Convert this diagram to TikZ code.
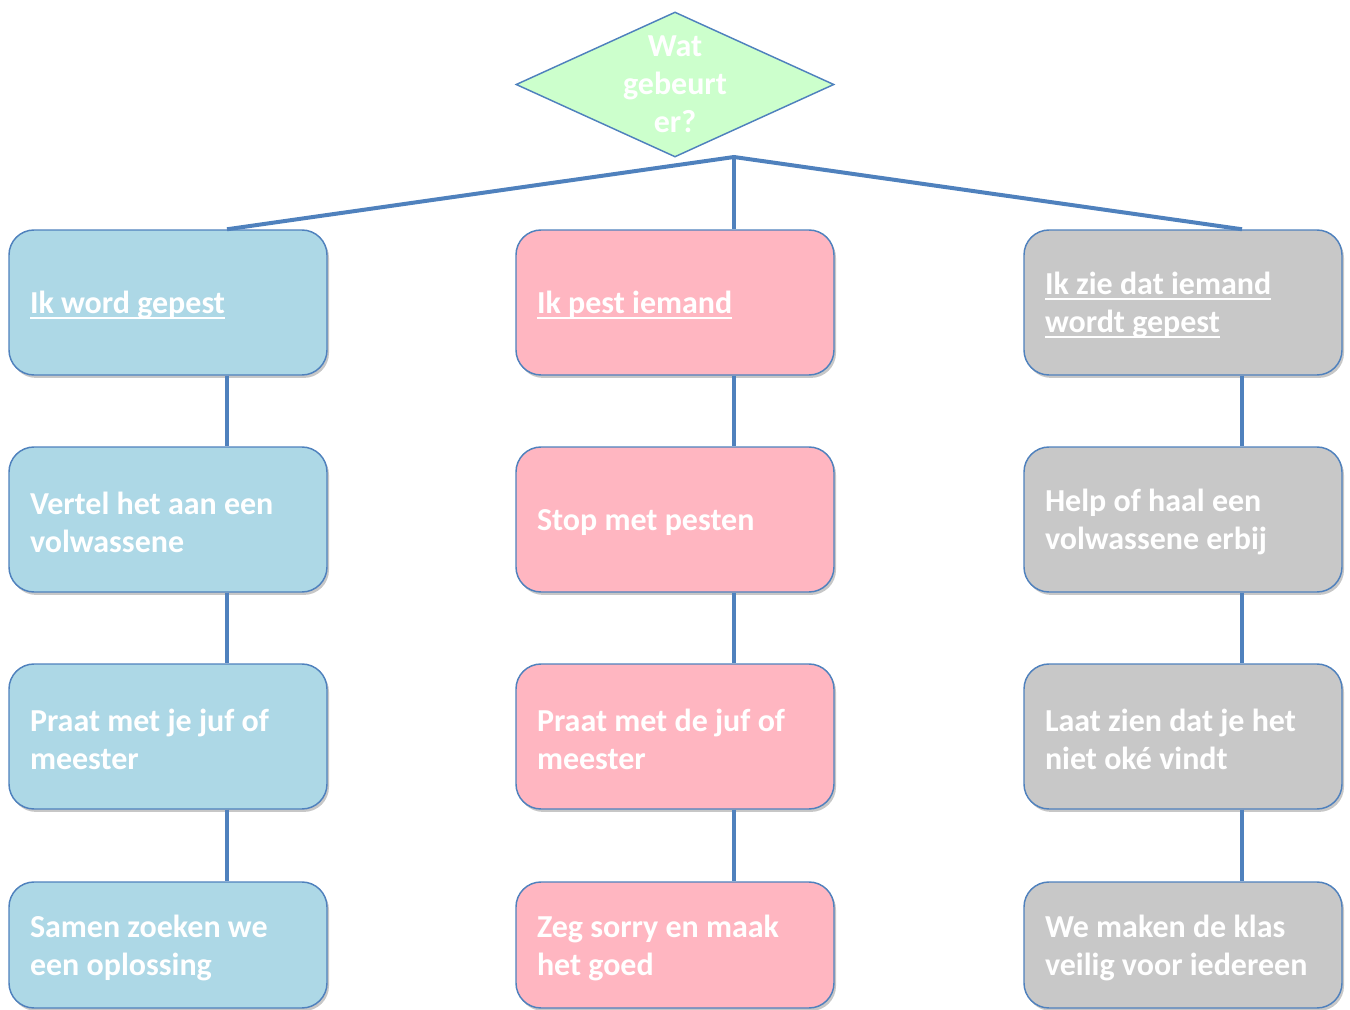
\documentclass[tikz,border=0pt]{standalone}
\usepackage{fontspec}
\setmainfont{Carlito}
\usetikzlibrary{shapes.geometric,shadows}
\definecolor{edge}{RGB}{79,129,189}
\definecolor{bluefill}{RGB}{173,216,230}
\definecolor{pinkfill}{RGB}{255,182,193}
\definecolor{grayfill}{RGB}{200,200,200}
\definecolor{greenfill}{RGB}{204,255,204}
\newsavebox\myulbox
\newcommand\myul[1]{\leavevmode\sbox\myulbox{#1}\rlap{\rule[-3.8pt]{\wd\myulbox}{1.5pt}}\usebox\myulbox}
\newcommand\bt[1]{\raisebox{-1.9pt}[\height][\depth]{\parbox[c]{207pt}{\raggedright #1}}}
\begin{document}
\begin{tikzpicture}[x=0.75pt,y=-0.75pt,
  txt/.style={font=\fontsize{24}{28.5}\selectfont\bfseries, text=white},
  box/.style={txt, draw=edge, line width=1.1pt, rounded corners=18.75pt,
    minimum width=238.5pt, minimum height=108.75pt,
    inner xsep=15.75pt, inner ysep=0pt,
    drop shadow={shadow xshift=1.5pt, shadow yshift=-2.2pt, fill=black, opacity=0.22}},
  bluebox/.style={box, fill=bluefill},
  pinkbox/.style={box, fill=pinkfill},
  graybox/.style={box, fill=grayfill},
  conn/.style={draw=edge, line width=3pt},
  cx/.style={xshift=44.25pt}
]
\useasboundingbox (0,0) rectangle (1350,1010);

% decision diamond
\node[diamond, draw=edge, fill=greenfill, line width=1.1pt,
  minimum width=238.5pt, minimum height=108.75pt, inner sep=0pt] (q) at (675,84.5) {};
\node[txt, align=center, inner sep=0pt] (qt) at (675,84.5) {Wat\\gebeurt\\er?};
\coordinate (j) at (734,157);

% left column
\node[bluebox] (a1) at (168,302.5) {\bt{\myul{Ik word gepest}}};
\node[bluebox] (a2) at (168,519.5) {\bt{Vertel het aan een\\volwassene}};
\node[bluebox] (a3) at (168,736.5) {\bt{Praat met je juf of\\meester}};
\node[bluebox, minimum height=94.5pt] (a4) at (168,945) {\bt{Samen zoeken we\\een oplossing}};

% middle column
\node[pinkbox] (b1) at (675,302.5) {\bt{\myul{Ik pest iemand}}};
\node[pinkbox] (b2) at (675,519.5) {\bt{Stop met pesten}};
\node[pinkbox] (b3) at (675,736.5) {\bt{Praat met de juf of\\meester}};
\node[pinkbox, minimum height=94.5pt] (b4) at (675,945) {\bt{Zeg sorry en maak\\het goed}};

% right column
\node[graybox] (c1) at (1183,302.5) {\bt{\myul{Ik zie dat iemand}\\\myul{wordt gepest}}};
\node[graybox] (c2) at (1183,519.5) {\bt{Help of haal een\\volwassene erbij}};
\node[graybox] (c3) at (1183,736.5) {\bt{Laat zien dat je het\\niet oké vindt}};
\node[graybox, minimum height=94.5pt] (c4) at (1183,945) {\bt{We maken de klas\\veilig voor iedereen}};

% connectors from the decision
\draw[conn] ([cx]a1.north) -- (j) -- ([cx]c1.north);
\draw[conn] (j) -- ([cx]b1.north);

% column connectors
\foreach \p/\n in {a1/a2,a2/a3,a3/a4,b1/b2,b2/b3,b3/b4,c1/c2,c2/c3,c3/c4}
  \draw[conn] ([cx]\p.south) -- ([cx]\n.north);
\end{tikzpicture}
\end{document}
